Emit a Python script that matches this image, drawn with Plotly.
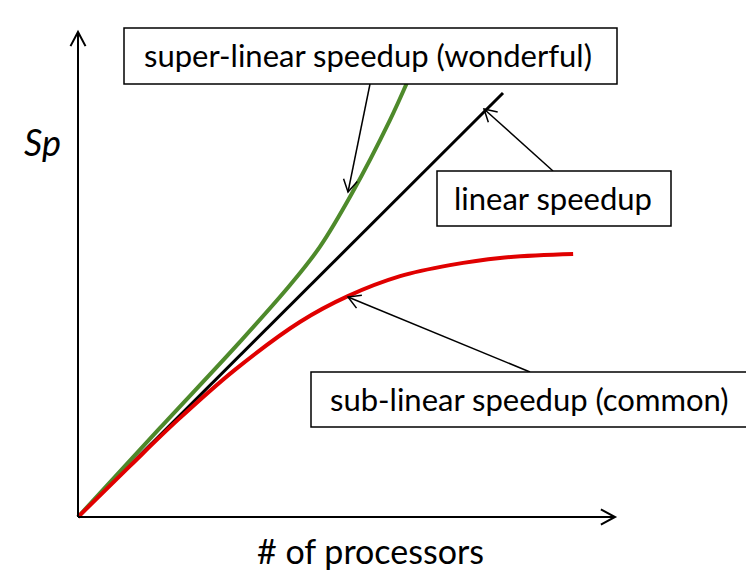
import math
import plotly.graph_objects as go

# ---- data (conceptual speedup curves) ----
linear_x = [0, 10]
linear_y = [0, 10]
super_x = [0, 1.93, 3.81, 4.99, 5.69, 6.45, 7.34, 7.74]
super_y = [0, 2.10, 4.13, 5.47, 6.37, 7.64, 9.36, 10.24]
sub_x = [0, 1.22, 2.35, 3.69, 5.22, 6.35, 7.58, 8.75, 9.93, 11.65]
sub_y = [0, 1.20, 2.29, 3.47, 4.60, 5.21, 5.68, 5.94, 6.11, 6.20]

label_super = "super-linear speedup (wonderful)"
label_linear = "linear speedup"
label_sub = "sub-linear speedup (common)"
x_title = "# of processors"
y_title = "Sp"

# ---- page pixel <-> data mapping (full-bleed plot area, page has 8px body margin) ----
W, H = 754, 582
OFF = 8
OX, OY = 78, 517
SX, SY = 42.5, 42.4


def dx(px):
    return (px - OX) / SX


def dy(py):
    return (OY - py) / SY


FONT = "Lato"
GREEN = "#4E8A2B"
RED = "#E00000"

fig = go.Figure()
fig.add_trace(go.Scatter(x=linear_x, y=linear_y, mode="lines",
                         line=dict(color="black", width=3), hoverinfo="skip"))
fig.add_trace(go.Scatter(x=super_x, y=super_y, mode="lines",
                         line=dict(color=GREEN, width=4, shape="spline", smoothing=1.0),
                         hoverinfo="skip"))
fig.add_trace(go.Scatter(x=sub_x, y=sub_y, mode="lines",
                         line=dict(color=RED, width=4, shape="spline", smoothing=1.0),
                         hoverinfo="skip"))

shapes = []


def line_px(x0, y0, x1, y1, width=1.5):
    shapes.append(dict(type="line", xref="x", yref="y",
                       x0=dx(x0), y0=dy(y0), x1=dx(x1), y1=dy(y1),
                       line=dict(color="black", width=width)))


def chevron(tx, ty, sx, sy, L=14, ang=30, width=1.5):
    ux, uy = sx - tx, sy - ty
    n = math.hypot(ux, uy)
    ux, uy = ux / n, uy / n
    pts = []
    for s in (1, -1):
        a = math.radians(ang) * s
        rx = ux * math.cos(a) - uy * math.sin(a)
        ry = ux * math.sin(a) + uy * math.cos(a)
        pts.append((tx + L * rx, ty + L * ry))
    path = "M {},{} L {},{} L {},{}".format(
        dx(pts[0][0]), dy(pts[0][1]), dx(tx), dy(ty), dx(pts[1][0]), dy(pts[1][1]))
    shapes.append(dict(type="path", xref="x", yref="y", path=path,
                       line=dict(color="black", width=width)))


def arrow(sx, sy, tx, ty, width=1.5, L=14, ang=30):
    line_px(sx, sy, tx, ty, width)
    chevron(tx, ty, sx, sy, L, ang, width)


def box(x0, y0, x1, y1):
    shapes.append(dict(type="rect", xref="x", yref="y",
                       x0=dx(x0), y0=dy(y0), x1=dx(x1), y1=dy(y1),
                       fillcolor="white", line=dict(color="black", width=1.5),
                       layer="above"))


# axes
arrow(OX, OY, 78, 32, width=2, L=16, ang=28)
arrow(OX, OY, 615, OY, width=2, L=16, ang=28)

# pointer arrows
arrow(370, 84, 348, 192)
arrow(553, 171, 484, 109)
arrow(530, 372, 348, 297)

# boxes
box(124, 28, 617, 84)
box(437, 171, 671, 226)
box(311, 372, 752, 427)

annotations = []


def text_px(px, py, txt, size, italic=False):
    t = "<i>" + txt + "</i>" if italic else txt
    annotations.append(dict(x=dx(px), y=dy(py), xref="x", yref="y", text=t,
                            showarrow=False, xanchor="center", yanchor="middle",
                            font=dict(family=FONT, size=size, color="black")))


text_px(368, 55, label_super, 31)
text_px(553, 198, label_linear, 31)
text_px(529, 399, label_sub, 31)
text_px(370, 550, x_title, 34)
text_px(42, 142, y_title, 36, italic=True)

fig.update_layout(
    width=W, height=H, autosize=False,
    margin=dict(l=0, r=0, t=0, b=0),
    paper_bgcolor="white", plot_bgcolor="white",
    showlegend=False,
    xaxis=dict(range=[dx(OFF), dx(OFF + W)], visible=False, fixedrange=True),
    yaxis=dict(range=[dy(OFF + H), dy(OFF)], visible=False, fixedrange=True),
    shapes=shapes, annotations=annotations,
)

fig.write_html("out.html", config={"displayModeBar": False})
